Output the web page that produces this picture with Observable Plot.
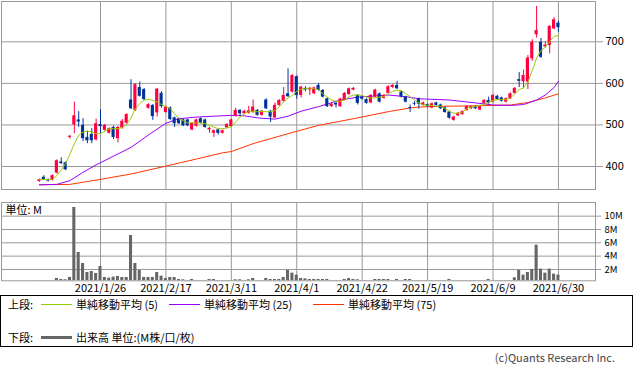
<!DOCTYPE html>
<html><head><meta charset="utf-8">
<script src="https://cdn.jsdelivr.net/npm/d3@7"></script>
<script src="https://cdn.jsdelivr.net/npm/@observablehq/plot@0.6"></script>
<style>
body{margin:0;background:#fff;font-family:"Noto Sans CJK JP","Noto Sans",sans-serif;}
#wrap{position:relative;width:633px;height:371px;overflow:hidden;}
#wrap svg{display:block;}
.legend{position:absolute;left:0;top:295px;width:631px;height:50px;border:1px solid #000;font-size:11px;color:#000;}
.item{position:absolute;display:flex;align-items:center;white-space:nowrap;}
.sw{display:inline-block;width:31px;margin-right:4px;}
.copy{position:absolute;right:18px;top:349px;font-size:11px;color:#444;}
</style></head>
<body><div id="wrap"><div id="topPanel"></div><div id="botPanel"></div>
<div class="legend">
 <span class="item" style="left:7px;top:0px;height:16px">上段:</span>
 <span class="item" style="left:40px;top:0px;height:16px"><span class="sw" style="border-top:1px solid #99cc00"></span>単純移動平均 (5)</span>
 <span class="item" style="left:168px;top:0px;height:16px"><span class="sw" style="border-top:1px solid #9900ff"></span>単純移動平均 (25)</span>
 <span class="item" style="left:312px;top:0px;height:16px"><span class="sw" style="border-top:1px solid #ff3300"></span>単純移動平均 (75)</span>
 <span class="item" style="left:7px;top:33px;height:16px">下段:</span>
 <span class="item" style="left:40px;top:33px;height:16px"><span class="sw" style="border-top:3px solid #666"></span>出来高 単位:(M株/口/枚)</span>
</div>
<div class="copy">(c)Quants Research Inc.</div>
</div>
<script>
// Daily candles, 2021/1/5 .. 2021/6/30 (index = trading day)
const opens  = [364,374,368,367,384,411,409,470,500,512,499,470,477,464,501,487,480,494,467,492,504,560,535,590,585,540,547,529,576,530,541,517,515,512,512,488,497,515,512,488,480,488,480,493,496,521,535,527,528,530,535,523,560,533,517,547,557,575,579,616,571,588,584,575,595,583,563,544,552,544,560,573,584,571,567,561,553,567,575,564,576,590,595,579,567,542,552,562,547,549,541,553,548,541,531,511,522,525,535,539,544,536,552,559,555,569,565,555,563,576,609,604,603,659,717,699,688,691,731,745];
const highs  = [370,378,370,380,416,421,411,474,555,532,515,485,491,514,537,501,493,497,496,513,527,609,599,603,588,551,549,588,580,545,543,519,517,514,514,506,514,517,514,494,488,490,488,503,514,540,537,535,545,560,537,535,563,535,553,561,590,635,621,618,593,592,590,591,600,585,565,552,554,564,578,589,590,573,569,563,573,586,577,573,594,597,605,581,569,548,556,565,555,551,553,555,550,543,533,521,530,534,546,546,546,546,561,567,573,571,567,565,577,590,626,632,667,705,785,708,700,739,758,750];
const lows   = [362,366,363,365,382,405,390,466,479,494,460,455,455,462,479,485,478,465,457,490,502,537,533,567,559,538,511,519,540,528,511,494,501,496,496,486,495,502,492,480,470,476,478,491,494,519,520,525,526,528,521,521,537,506,515,545,555,566,577,562,565,580,571,573,581,565,542,542,541,542,558,571,582,548,560,550,551,565,553,562,574,588,585,565,553,530,546,538,545,542,539,545,537,528,514,509,520,523,533,537,537,534,550,550,553,559,555,553,561,574,590,588,585,653,709,660,685,671,729,723];
const closes = [368,368,365,378,414,407,392,473,522,507,467,462,462,503,496,499,491,470,494,509,525,539,597,569,561,549,520,586,544,543,513,503,503,498,498,504,512,504,494,492,486,480,486,501,512,535,527,533,534,543,523,533,539,519,547,559,571,568,619,571,591,584,588,589,583,567,544,550,548,562,576,587,588,552,562,552,571,584,555,571,592,595,587,567,555,540,550,550,553,544,551,547,539,530,516,519,528,532,544,544,539,544,559,552,571,561,557,563,575,588,605,619,661,699,727,663,692,737,753,734];
const volumes = [0.3,0.3,0.3,0.3,0.65,0.5,0.45,0.8,11.3,4.55,2.9,1.55,1.7,1.4,2.45,0.8,0.7,0.85,0.95,0.8,0.8,7.1,2.9,1.85,0.8,0.8,0.8,1.55,1.0,0.65,0.8,0.8,0.5,0.45,0.35,0.5,0.35,0.3,0.3,0.5,0.5,0.35,0.3,0.3,0.3,0.45,0.45,0.35,0.45,0.65,0.35,0.3,0.65,0.5,0.5,0.5,0.8,1.85,1.45,1.15,0.65,0.6,0.5,0.5,0.5,0.5,0.5,0.35,0.35,0.35,0.5,0.65,0.5,0.45,0.3,0.3,0.3,0.5,0.5,0.5,0.5,0.3,0.5,0.3,0.5,0.5,0.3,0.3,0.3,0.3,0.3,0.3,0.3,0.3,0.5,0.3,0.3,0.3,0.3,0.3,0.3,0.3,0.3,0.5,0.3,0.3,0.3,0.3,0.3,0.75,1.85,1.15,1.55,2.0,5.65,2.05,1.45,2.05,1.3,1.15];
// Moving averages
const ma5 = [369,369,369,369,378,392,407,430,455,475,483,485,483,479,479,485,491,491,491,494,501,517,539,551,560,562,559,555,549,544,539,527,515,510,505,505,505,505,503,499,495,491,491,493,496,507,519,527,532,532,532,532,532,532,534,544,555,565,571,581,586,587,589,587,585,575,567,560,557,557,560,568,572,572,571,567,565,565,567,568,576,581,583,583,575,568,560,553,549,547,547,545,545,539,533,528,528,531,539,543,545,547,549,555,559,561,561,561,565,575,585,589,603,631,661,679,687,701,713,715];
const ma25Idx = [0,4,7,10,13,17,21,25,29,32,36,44,47,50,54,57,60,64,69,73,80,84,87,94,100,104,108,111,114,116,118,119];
const ma25Val = [356,357,366,386,404,425,446,476,504,515,519,523,522,517,514,521,533,544,560,567,572,568,563,560,553,548,547,549,560,572,590,605];
const ma75Idx = [0,7,14,21,29,36,42,44,49,57,64,72,80,85,87,93,100,108,112,116,119];
const ma75Val = [356,357,369,382,401,418,433,436,455,479,499,515,532,541,543,545,546,548,554,565,575];
// Axis ticks
const dateTickIdx = [14,29,44,59,74,89,104,119];
const dateTickLabels = ["2021/1/26","2021/2/17","2021/3/11","2021/4/1","2021/4/22","2021/5/19","2021/6/9","2021/6/30"];
const priceTicks = [400,500,600,700];
const volTicks = [2,4,6,8,10];

const candles = opens.map((o,i)=>({i, o, h:highs[i], l:lows[i], c:closes[i], up: closes[i]>=o}));
const vols = volumes.map((v,i)=>({i, v}));
const ma5d = ma5.map((v,i)=>({i, v}));
const ma25d = ma25Idx.map((i,k)=>({i, v:ma25Val[k]}));
const ma75d = ma75Idx.map((i,k)=>({i, v:ma75Val[k]}));

const RED="#ff0040", BLUE="#003399", GRID="#999";
const xDomain=[-8.7,127.5];
const font={fontFamily:'"Noto Sans CJK JP","Noto Sans",sans-serif',fontSize:"11px",color:"#000",background:"#fff"};

const priceChart = Plot.plot({
  width:633, height:195, marginTop:1, marginBottom:6, marginLeft:1, marginRight:38,
  style:font,
  x:{domain:xDomain, axis:null},
  y:{domain:[344.7,797], axis:null},
  marks:[
    Plot.ruleX(dateTickIdx,{stroke:GRID,strokeWidth:1}),
    Plot.ruleY(priceTicks,{stroke:GRID,strokeWidth:1}),
    Plot.axisY(priceTicks,{anchor:"right",tickSize:7,tickPadding:3,stroke:GRID,fill:"#000",label:null}),
    Plot.frame({stroke:GRID}),
    Plot.line(ma75d,{x:"i",y:"v",stroke:"#ff3300",strokeWidth:1}),
    Plot.line(ma25d,{x:"i",y:"v",stroke:"#9900ff",strokeWidth:1}),
    Plot.ruleX(candles,{x:"i",y1:"l",y2:"h",stroke:d=>d.up?RED:BLUE,strokeWidth:1}),
    Plot.rect(candles,{x1:d=>d.i-0.36,x2:d=>d.i+0.36,y1:"o",y2:"c",fill:d=>d.up?RED:BLUE}),
    Plot.line(ma5d,{x:"i",y:"v",stroke:"#99cc00",strokeWidth:1})
  ]
});
document.getElementById("topPanel").append(priceChart);

const volChart = Plot.plot({
  width:633, height:99, marginTop:7, marginBottom:13.7, marginLeft:1, marginRight:38,
  style:font,
  x:{domain:xDomain, axis:null},
  y:{domain:[0.3,12.05], axis:null},
  marks:[
    Plot.ruleX(dateTickIdx,{stroke:GRID,strokeWidth:1}),
    Plot.ruleY(volTicks,{stroke:GRID,strokeWidth:1}),
    Plot.rect(vols,{x1:d=>d.i-0.35,x2:d=>d.i+0.35,y1:0,y2:"v",fill:"#666",clip:true}),
    Plot.frame({stroke:GRID}),
    Plot.axisY(volTicks,{anchor:"right",tickSize:5,tickPadding:4,stroke:GRID,fill:"#000",fontSize:9.5,label:null,tickFormat:d=>d+"M"}),
    Plot.axisX(dateTickIdx,{anchor:"bottom",tickSize:0,tickPadding:3,fill:"#000",label:null,tickFormat:(d)=>dateTickLabels[dateTickIdx.indexOf(d)]}),
    Plot.text(["単位: M"],{frameAnchor:"top-left",dx:4,dy:4,lineAnchor:"top",textAnchor:"start",fill:"#000"})
  ]
});
document.getElementById("botPanel").append(volChart);
</script></body></html>
